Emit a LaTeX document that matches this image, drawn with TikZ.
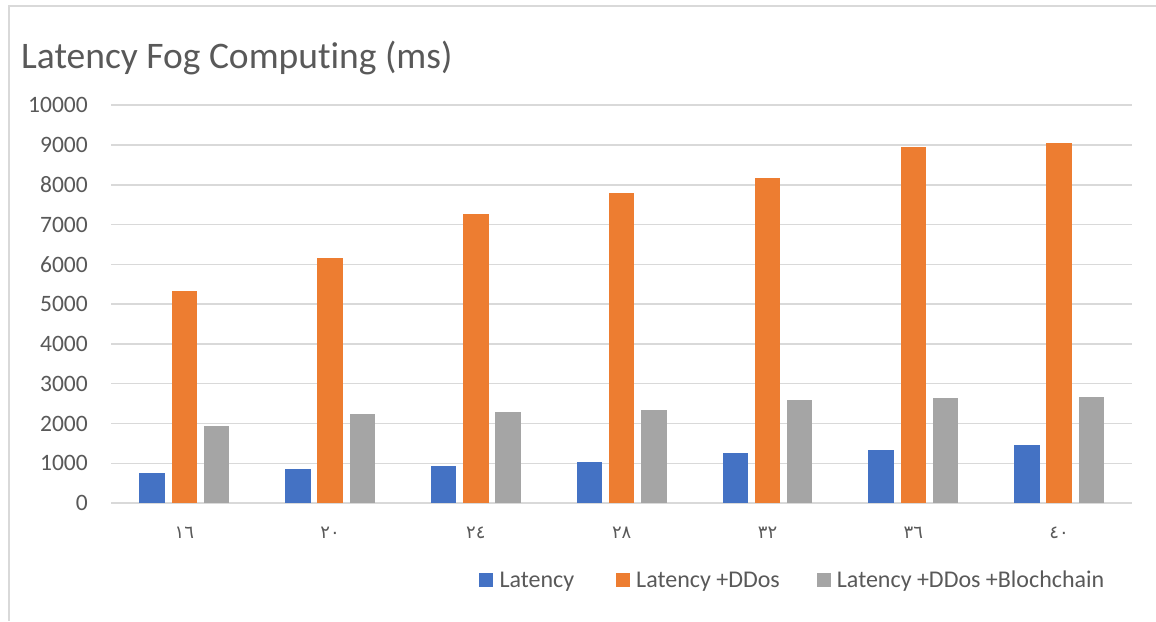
\documentclass[tikz,border=0pt]{standalone}
\usepackage{fontspec}
\setmainfont[Ligatures=NoCommon]{Carlito}
\newfontfamily\arab{DejaVu Sans}
\definecolor{txt}{HTML}{595959}
\definecolor{gridc}{HTML}{D9D9D9}
\definecolor{sblue}{HTML}{4472C4}
\definecolor{sorange}{HTML}{ED7D31}
\definecolor{sgray}{HTML}{A5A5A5}
\begin{document}
\begin{tikzpicture}[x=1pt,y=-1pt,
  gridline/.style={draw=gridc,line width=1.5pt},
  frameline/.style={draw=gridc,line width=1.5pt},
  ylab/.style={anchor=east,text=txt,font=\fontsize{23.5}{26}\selectfont,inner sep=0},
  xlab/.style={anchor=center,text=txt,font=\arab\fontsize{18}{20}\selectfont,inner sep=0},
  legtext/.style={anchor=base west,text=txt,font=\fontsize{24}{28}\selectfont,inner sep=0},
  legkey/.style={minimum size=14pt,inner sep=0,anchor=center},
  titletext/.style={anchor=base west,text=txt,font=\fontsize{37.5}{40}\selectfont,inner sep=0}]
\useasboundingbox (0,0) rectangle (1156,621);
\fill[white] (0,0) rectangle (1156,621);
% frame
\coordinate (f1) at (9,6);
\coordinate (f2) at (1156,6);
\coordinate (f3) at (9,621);
\draw[frameline] (f2) -- (f1) -- (f3);
% title
\node[titletext] (title) at (21,68.3) {Latency Fog Computing (ms)};
% grid and y labels
\foreach \i/\lab in {0/0,1/1000,2/2000,3/3000,4/4000,5/5000,6/6000,7/7000,8/8000,9/9000,10/10000}{
  \coordinate (gl\i) at (111,{503.1-\i*39.79});
  \coordinate (gr\i) at (1131.7,{503.1-\i*39.79});
  \draw[gridline] (gl\i) -- (gr\i);
  \node[ylab] (y\i) at (88,{503.1-\i*39.79}) {\lab};
}
% bars
\foreach \c/\b/\o/\g in {0/750/5323/1945,1/849/6152/2231,2/940/7258/2290,3/1025/7793/2340,4/1251/8178/2583,5/1335/8950/2641,6/1452/9058/2659}{
  \pgfmathsetmacro\xl{139.3+\c*145.8}
  \fill[sblue] (\xl,503.1) rectangle ++(25.5,{-\b*0.03979});
  \fill[sorange] ({\xl+32.2},503.1) rectangle ++(25.5,{-\o*0.03979});
  \fill[sgray] ({\xl+64.4},503.1) rectangle ++(25.5,{-\g*0.03979});
}
% x labels
\foreach \c/\lab in {0/١٦,1/٢٠,2/٢٤,3/٢٨,4/٣٢,5/٣٦,6/٤٠}{
  \node[xlab] (x\c) at ({184.3+\c*145.8},532.5) {\lab};
}
% legend
\node[legkey,fill=sblue] (k1) at (486,580.3) {};
\node[legtext] (l1) at (499.3,587.3) {Latency};
\node[legkey,fill=sorange] (k2) at (623,580.3) {};
\node[legtext] (l2) at (636,587.3) {Latency +DDos};
\node[legkey,fill=sgray] (k3) at (823.7,580.3) {};
\node[legtext] (l3) at (836.7,587.3) {Latency +DDos +Blochchain};
\end{tikzpicture}
\end{document}
